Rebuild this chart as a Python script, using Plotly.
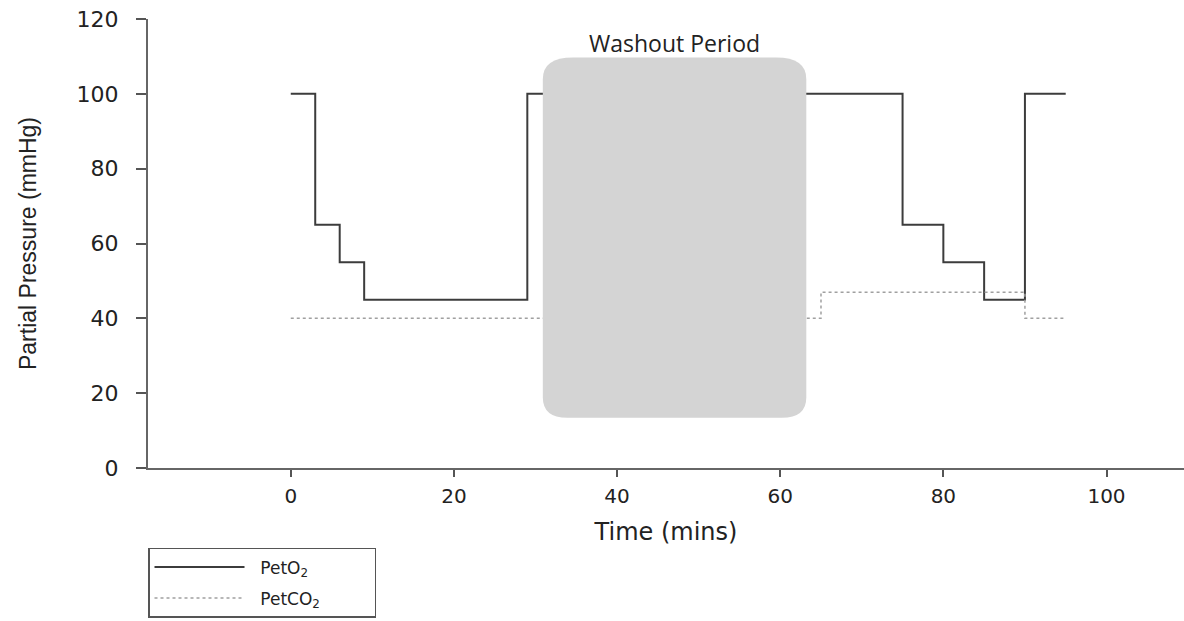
import plotly.graph_objects as go

# Data
o2_time = [0, 3, 6, 9, 29, 75, 80, 85, 90, 95]
o2_vals = [100, 65, 55, 45, 100, 65, 55, 45, 100, 100]
co2_time = [0, 65, 90, 95]
co2_vals = [40, 47, 40, 40]
x_ticks = [0, 20, 40, 60, 80, 100]
y_ticks = [0, 20, 40, 60, 80, 100, 120]
washout = (30.9, 63.2, 13.4, 109.7)  # x0, x1, y0, y1

fig = go.Figure()
fig.add_trace(go.Scatter(x=o2_time, y=o2_vals, mode="lines", line_shape="hv",
                         line=dict(color="#3c3c3c", width=2), legendgroup="a",
                         name="&nbsp;&nbsp;PetO<sub>2</sub>"))
fig.add_trace(go.Scatter(x=co2_time, y=co2_vals, mode="lines", line_shape="hv",
                         line=dict(color="#a0a0a0", width=1.5, dash="dot"), legendgroup="b",
                         name="&nbsp;&nbsp;PetCO<sub>2</sub>" + "&nbsp;" * 9))

x0, x1, y0, y1 = washout
rxt, ryt = 3.7, 5.8   # top corners
rxb, ryb = 3.0, 5.5   # bottom corners
path = (f"M{x0+rxb},{y0} L{x1-rxb},{y0} Q{x1},{y0} {x1},{y0+ryb} "
        f"L{x1},{y1-ryt} Q{x1},{y1} {x1-rxt},{y1} L{x0+rxt},{y1} "
        f"Q{x0},{y1} {x0},{y1-ryt} L{x0},{y0+ryb} Q{x0},{y0} {x0+rxb},{y0} Z")
fig.add_shape(type="path", path=path, xref="x", yref="y", fillcolor="#d4d4d4",
              line=dict(width=0), layer="above")
fig.add_annotation(x=(x0 + x1) / 2, y=113.6, xref="x", yref="y", text="Washout Period",
                   showarrow=False, font=dict(family="Open Sans", size=23, color="#222"))

fig.update_layout(
    width=1184, height=621,
    margin=dict(l=148, r=0, t=19, b=153),
    plot_bgcolor="white", paper_bgcolor="white",
    showlegend=True,
    legend=dict(x=0, y=-0.178, xanchor="left", yanchor="top",
                bordercolor="#555", borderwidth=1.5, bgcolor="white",
                font=dict(family="DejaVu Sans", size=17, color="#222"),
                itemwidth=90, tracegroupgap=6),
    font=dict(family="Liberation Sans", color="#222"),
)
fig.update_xaxes(range=[-17.5, 109.5], tickvals=x_ticks, showline=True, linecolor="#666",
                 linewidth=2, ticks="outside", ticklen=7, tickcolor="#555", tickwidth=1.5,
                 showgrid=False, zeroline=False, ticklabelstandoff=2,
                 tickfont=dict(family="DejaVu Sans", size=20, color="#222"),
                 title=dict(text="Time (mins)", font=dict(family="DejaVu Sans", size=24, color="#222"),
                            standoff=16))
fig.update_yaxes(range=[0, 120], tickvals=y_ticks, showline=True, linecolor="#666",
                 linewidth=2, ticks="outside", ticklen=10, tickcolor="#555", tickwidth=1.5,
                 showgrid=False, zeroline=False, ticklabelstandoff=13,
                 tickfont=dict(family="DejaVu Sans", size=22, color="#222"),
                 title=dict(text="Partial Pressure (mmHg)",
                            font=dict(family="Liberation Sans", size=23, color="#222"),
                            standoff=34))

fig.write_html("out.html", config={"displayModeBar": False},
               post_script="document.body.style.margin='0';")
